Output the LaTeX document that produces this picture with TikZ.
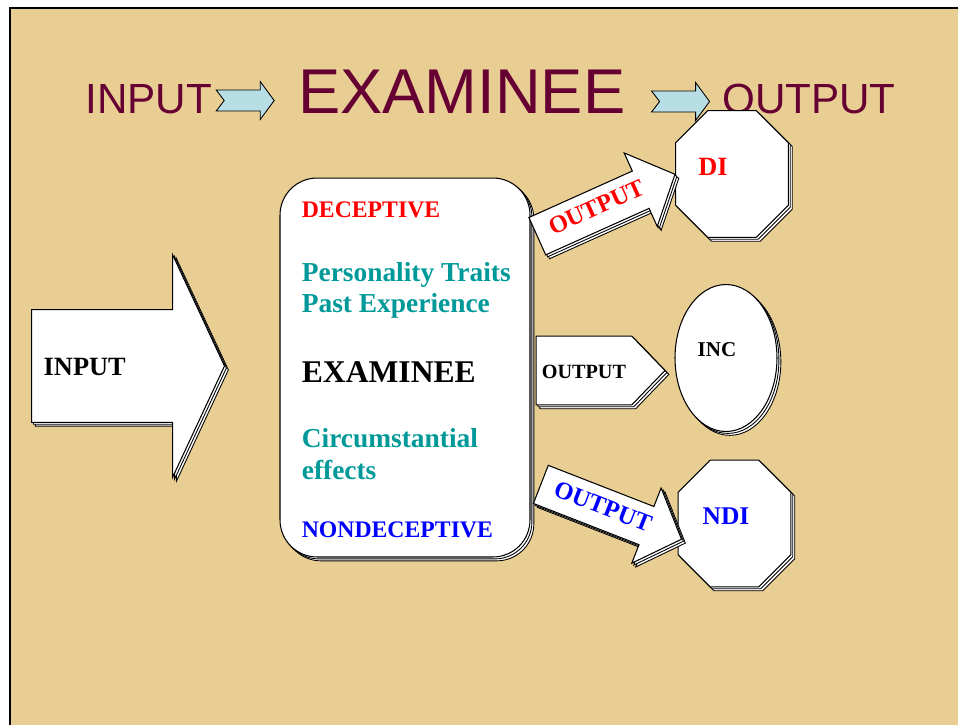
\documentclass[tikz,border=0pt]{standalone}
\usepackage{fontspec}
\setmainfont{Liberation Serif}
\newfontfamily\titlefont{Liberation Sans}
\usetikzlibrary{calc,positioning,shapes.arrows,shapes.geometric,shadows}

\definecolor{papyrus}{RGB}{233,206,148}
\definecolor{maroon}{RGB}{102,0,51}
\definecolor{tealtext}{RGB}{0,153,153}
\definecolor{skyarrow}{RGB}{183,222,228}

\tikzset{
  heading/.style={anchor=base west, inner sep=0pt, text=maroon, font=\titlefont\fontsize{24}{28}\selectfont},
  stack/.style={fill=white, draw=black, line width=0.6pt,
    double copy shadow={shadow xshift=1.1pt, shadow yshift=-1.1pt, fill=white, draw=black, line width=0.5pt}},
  boxtext/.style={anchor=base west, inner sep=0pt, text=tealtext, font=\bfseries\fontsize{15.6}{19}\selectfont},
  outarrow/.style={stack, single arrow, anchor=tip, single arrow head extend=11.3pt, single arrow tip angle=94,
    minimum height=3.02cm, text height=10pt, text depth=3pt, inner ysep=4.85pt, inner xsep=3pt,
    font=\bfseries\fontsize{14}{16}\selectfont},
  octabox/.style={rectangle, inner sep=0pt, minimum width=2.24cm, minimum height=2.52cm},
  resulttext/.style={inner sep=0pt, font=\bfseries\fontsize{15}{18}\selectfont},
  titlearrow/.pic={
    \draw[fill=skyarrow, line width=0.5pt] (0,-10.5) -- (44,-10.5) -- (44,-19) -- (58,0) -- (44,19) -- (44,10.5) -- (0,10.5) -- (8,0) -- cycle;
  }
}
% octagon drawn on the frame of a named node, corners cut by 32px
\def\octagon#1{\draw[stack] ($(#1.north west)+(32,0)$) -- ($(#1.north east)+(-32,0)$) -- ($(#1.north east)+(0,32)$)
  -- ($(#1.south east)+(0,-32)$) -- ($(#1.south east)+(-32,0)$) -- ($(#1.south west)+(32,0)$)
  -- ($(#1.south west)+(0,-32)$) -- ($(#1.north west)+(0,32)$) -- cycle;}

\begin{document}
\begin{tikzpicture}[x=0.02cm, y=-0.02cm]
  %%%%% BACKGROUND %%%%%
  \useasboundingbox (0,0) rectangle (958,725);
  \fill[white] (0,0) rectangle (958,725);
  \fill[papyrus] (10,8) rectangle (958,725);
  \draw[line width=1.3pt] (958,8) -- (10,8) -- (10,725);

  %%%%% TITLE %%%%%
  \node[heading] (tin) at (85,113) {INPUT};
  \node[heading, font=\titlefont\fontsize{36}{40}\selectfont] (texam) at (298,113) {EXAMINEE};
  \node[heading] (tout) at (722,113) {OUTPUT};
  \pic at ($(tin.base east)+(4,-12.5)$) {titlearrow};
  \pic at ($(texam.base east)+(26,-11.5)$) {titlearrow};

  %%%%% EXAMINEE BOX %%%%%
  \node[stack, rounded corners=0.74cm, minimum width=5cm, minimum height=7.58cm] (exam) at (405,367.5) {};
  \node[boxtext, text=red, font=\bfseries\fontsize{13.5}{16}\selectfont] (dec) at ($(exam.north west)+(22,40)$) {DECEPTIVE};
  \node[boxtext] (traits) at ($(exam.north west)+(22,104)$) {Personality Traits};
  \node[boxtext] (past) at ($(exam.north west)+(22,135)$) {Past Experience};
  \node[boxtext, text=black, font=\bfseries\fontsize{18}{21}\selectfont] (exnm) at ($(exam.north west)+(22,205)$) {EXAMINEE};
  \node[boxtext] (circ) at ($(exam.north west)+(22,270)$) {Circumstantial};
  \node[boxtext] (eff) at ($(exam.north west)+(22,302)$) {effects};
  \node[boxtext, text=blue, font=\bfseries\fontsize{13.5}{16}\selectfont] (nondec) at ($(exam.north west)+(22,360)$) {NONDECEPTIVE};

  %%%%% INPUT %%%%%
  \node[stack, single arrow, anchor=tail, single arrow head extend=31.2pt, single arrow tip angle=130,
    minimum height=3.86cm, text width=81pt, align=left, inner xsep=5.7pt, text height=11pt, text depth=0pt, inner ysep=26.25pt,
    font=\bfseries\fontsize{15}{18}\selectfont] (inp) at (31,366) {INPUT};

  %%%%% RESULTS %%%%%
  \node[octabox] (di) at (732,174) {};
  \octagon{di}
  \node[resulttext, text=red] (ditext) at ($(di.center)+(-19,-7)$) {DI};
  \node[stack, ellipse, minimum width=2.04cm, minimum height=2.94cm] (inc) at (726,358) {};
  \node[resulttext, font=\bfseries\fontsize{12}{14}\selectfont] (inctext) at ($(inc.center)+(-9,-8)$) {INC};
  \node[octabox] (ndi) at (734.5,523.5) {};
  \octagon{ndi}
  \node[resulttext, text=blue, font=\bfseries\fontsize{14.5}{17}\selectfont] (nditext) at ($(ndi.center)+(-8.5,-7.5)$) {NDI};

  %%%%% OUTPUT ARROWS %%%%%
  \node[outarrow, rotate=24.2, text=red] (outdi) at (di.west) {OUTPUT};
  \node[stack, single arrow, anchor=tail, single arrow head extend=0pt, single arrow tip angle=92,
    minimum height=2.58cm, text height=9pt, text depth=0pt, inner ysep=14.75pt, inner xsep=2pt,
    font=\bfseries\fontsize{11.5}{14}\selectfont] (outinc) at ($(exam.east)+(5,3)$) {OUTPUT};
  \node[outarrow, rotate=-21.3, text=blue] (outndi) at ($(ndi.west)+(4,16)$) {OUTPUT};
\end{tikzpicture}
\end{document}
